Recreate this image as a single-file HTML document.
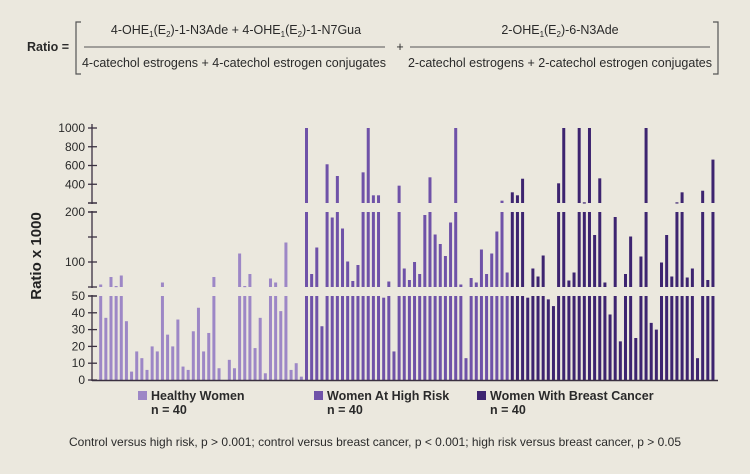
<!DOCTYPE html>
<html><head><meta charset="utf-8"><style>
body{margin:0;background:#ebe8de;}
svg{display:block;font-family:"Liberation Sans",sans-serif;}
</style></head><body>
<svg id="c" width="750" height="474" viewBox="0 0 750 474">
<rect width="750" height="474" fill="#ebe8de"/>
<g fill="#2a2a2a" font-size="12.5" font-weight="bold">
<text x="27" y="51">Ratio =</text>
<path d="M81,22 H76 V74 H81" fill="none" stroke="#555" stroke-width="1.2"/>
<path d="M713,22 H718 V74 H713" fill="none" stroke="#555" stroke-width="1.2"/>
<text x="236" y="34" text-anchor="middle" font-weight="normal">4-OHE<tspan font-size="8" dy="3">1</tspan><tspan dy="-3">(E</tspan><tspan font-size="8" dy="3">2</tspan><tspan dy="-3">)-1-N3Ade + 4-OHE</tspan><tspan font-size="8" dy="3">1</tspan><tspan dy="-3">(E</tspan><tspan font-size="8" dy="3">2</tspan><tspan dy="-3">)-1-N7Gua</tspan></text>
<line x1="84" y1="47" x2="385" y2="47" stroke="#555" stroke-width="1"/>
<text x="234" y="67" text-anchor="middle" font-weight="normal">4-catechol estrogens + 4-catechol estrogen conjugates</text>
<text x="400" y="51" text-anchor="middle" font-weight="normal">+</text>
<text x="560" y="34" text-anchor="middle" font-weight="normal">2-OHE<tspan font-size="8" dy="3">1</tspan><tspan dy="-3">(E</tspan><tspan font-size="8" dy="3">2</tspan><tspan dy="-3">)-6-N3Ade</tspan></text>
<line x1="410" y1="47" x2="710" y2="47" stroke="#555" stroke-width="1"/>
<text x="560" y="67" text-anchor="middle" font-weight="normal">2-catechol estrogens + 2-catechol estrogen conjugates</text>
</g>
<text transform="translate(41,256) rotate(-90)" text-anchor="middle" font-size="15" font-weight="bold" fill="#222">Ratio x 1000</text>
<g id="axis"></g>
<g id="bars"></g>
<line x1="92" y1="380.5" x2="718" y2="380.5" stroke="#3a3040" stroke-width="1.5"/>
<g font-size="12.5" fill="#2a2a2a" font-weight="bold">
<g><rect x="138" y="391" width="9" height="9" fill="#9d87c6"/><text x="151" y="400">Healthy Women</text><text x="151" y="414">n = 40</text></g>
<g><rect x="314" y="391" width="9" height="9" fill="#6f52a8"/><text x="327" y="400">Women At High Risk</text><text x="327" y="414">n = 40</text></g>
<g><rect x="477" y="391" width="9" height="9" fill="#3d2470"/><text x="490" y="400">Women With Breast Cancer</text><text x="490" y="414">n = 40</text></g>
</g>
<text x="375" y="446" text-anchor="middle" font-size="12" fill="#2a2a2a">Control versus high risk, p &gt; 0.001; control versus breast cancer, p &lt; 0.001; high risk versus breast cancer, p &gt; 0.05</text>
</svg>
<script>
const healthy=[55,37,70,52,73,35,5,17,13,6,20,17,59,27,20,36,8,6,29,43,17,28,70,7,0,12,7,117,52,76,19,37,4,67,59,41,139,6,10,2];
const highRisk=[1000,76,129,32,613,189,488,167,101,62,94,527,1000,282,282,49,61,17,385,87,64,100,76,194,474,155,136,112,179,1000,55,13,68,59,125,76,117,161,225,79];
const cancer=[314,282,459,49,87,71,113,48,44,410,1000,63,79,1000,207,1000,154,463,59,39,190,23,76,151,25,111,1000,34,30,99,154,71,207,314,69,87,13,331,64,663];
const groups=[[healthy,"#9d87c6","healthy"],[highRisk,"#6f52a8","high-risk"],[cancer,"#3d2470","cancer"]];
const bottomTicks=[0,10,20,30,40,50];
const midTicks=[100,200];
const topTicks=[200,400,600,800,1000];
const NS="http://www.w3.org/2000/svg";
const yB=v=>380-Math.min(v,50)*1.68;
const yM=v=>287-(Math.min(v,200)-50)*0.5;
const yT=v=>203-(Math.min(v,1000)-200)*(75/800);
const xOf=i=>100.7+i*5.145;
const bars=document.getElementById('bars');
function rect(x,y1,y2,c){const r=document.createElementNS(NS,'rect');r.setAttribute('x',x-1.5);r.setAttribute('y',Math.min(y1,y2));r.setAttribute('width',3);r.setAttribute('height',Math.max(Math.abs(y2-y1),1.2));r.setAttribute('fill',c);return r;}
let idx=0;
groups.forEach(([arr,col,nm])=>{arr.forEach(v=>{
 const g=document.createElementNS(NS,'g');
 
 
 const x=xOf(idx++);
 if(v>0)g.appendChild(rect(x,380,yB(v),col));
 if(v>50)g.appendChild(rect(x,287,yM(v),col));
 if(v>200)g.appendChild(rect(x,203,yT(v),col));
 bars.appendChild(g);});});
const ax=document.getElementById('axis');
function ln(x1,y1,x2,y2){const l=document.createElementNS(NS,'line');l.setAttribute('x1',x1);l.setAttribute('y1',y1);l.setAttribute('x2',x2);l.setAttribute('y2',y2);l.setAttribute('stroke','#3a3040');l.setAttribute('stroke-width','1.3');ax.appendChild(l);}
function lab(y,t){const e=document.createElementNS(NS,'text');e.setAttribute('x',85);e.setAttribute('y',y+4);e.setAttribute('text-anchor','end');e.setAttribute('font-size','12');e.setAttribute('fill','#2a2a2a');e.textContent=t;ax.appendChild(e);}
ln(92,124,92,204);ln(92,211,92,288);ln(92,295,92,381);
ln(88,203,97,203);ln(88,212,97,212);ln(88,287,97,287);ln(88,296,97,296);
bottomTicks.forEach(v=>{ln(88,yB(v),97,yB(v));lab(yB(v),v);});
ln(88,yM(150),97,yM(150));
midTicks.forEach(v=>{ln(88,yM(v),97,yM(v));lab(yM(v),v);});
topTicks.forEach(v=>{ln(88,yT(v),97,yT(v));if(v>200)lab(yT(v),v);});
</script>
</body></html>
